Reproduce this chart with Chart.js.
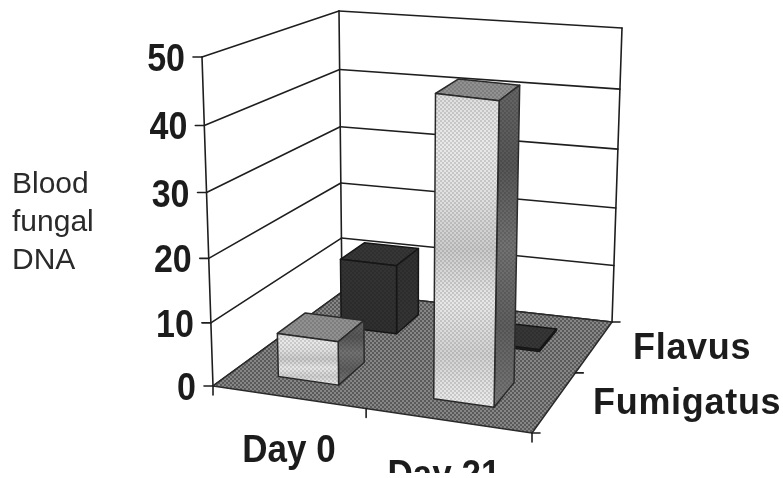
<!DOCTYPE html>
<html>
<head>
<meta charset="utf-8">
<style>
  html, body { margin: 0; background: #fff; }
  canvas { display: block; }
</style>
</head>
<body>
<canvas id="chart" width="783" height="478"></canvas>
<script src="https://cdn.jsdelivr.net/npm/chart.js@4"></script>
<script>
const days = ["Day 0", "Day 21"];
const species = ["Fumigatus", "Flavus"];
const fumigatus = [7, 47];
const flavus = [11.8, 0.3];
const yTicks = [0, 10, 20, 30, 40, 50];
const yTitle = ["Blood", "fungal", "DNA"];

// corners of the 3D box as they land on the page: [floor, top]
const corners = {
  frontLeft: [[213, 386], [202, 57]],
  frontRight: [[532, 433], [540, 98]],
  backLeft: [[342, 292], [339, 11]],
  backRight: [[612, 322], [622, 28]],
};

const ink = "#1e1e1e";

function mix(a, b, t) {
  return [a[0] + (b[0] - a[0]) * t, a[1] + (b[1] - a[1]) * t];
}

// u = along the days, v = into the page, w = up the value axis
function project(u, v, w) {
  const depth = (v * 1.18) / (1 + 0.18 * v); // perspective squeeze
  const rise = w - 0.05 * w * (1 - w); // gridlines bunch slightly low down
  const floor = mix(
    mix(corners.frontLeft[0], corners.frontRight[0], u),
    mix(corners.backLeft[0], corners.backRight[0], u),
    depth
  );
  const top = mix(
    mix(corners.frontLeft[1], corners.frontRight[1], u),
    mix(corners.backLeft[1], corners.backRight[1], u),
    depth
  );
  return mix(floor, top, rise);
}

function heightOf(y, value) {
  return (y.bottom - y.getPixelForValue(value)) / y.height;
}

// 2px checker, the scan's halftone
function dots(dark, light) {
  const c = document.createElement("canvas");
  c.width = c.height = 4;
  const g = c.getContext("2d");
  g.fillStyle = light;
  g.fillRect(0, 0, 4, 4);
  g.fillStyle = dark;
  g.fillRect(0, 0, 2, 2);
  g.fillRect(2, 2, 2, 2);
  return c;
}

function poly(ctx, pts, fill, overlay, stroke) {
  ctx.beginPath();
  pts.forEach((p, i) => (i ? ctx.lineTo(p[0], p[1]) : ctx.moveTo(p[0], p[1])));
  ctx.closePath();
  ctx.fillStyle = fill;
  ctx.fill();
  if (overlay) {
    ctx.fillStyle = overlay;
    ctx.fill();
  }
  if (stroke) {
    ctx.strokeStyle = stroke;
    ctx.lineWidth = 1.5;
    ctx.lineJoin = "round";
    ctx.stroke();
  }
}

function line(ctx, a, b, width) {
  ctx.beginPath();
  ctx.moveTo(a[0], a[1]);
  ctx.lineTo(b[0], b[1]);
  ctx.strokeStyle = ink;
  ctx.lineWidth = width || 1.6;
  ctx.stroke();
}

// the scanned type is taller than it is wide
function tallText(ctx, txt, x, y, stretch) {
  ctx.save();
  ctx.translate(x, y);
  ctx.scale(1, stretch);
  ctx.fillText(txt, 0, 0);
  ctx.restore();
}

function bandFill(ctx, from, to, stops) {
  const g = ctx.createLinearGradient(0, from, 0, to);
  stops.forEach((c, i) => g.addColorStop(i / (stops.length - 1), c));
  return g;
}

function drawBox(ctx, chart, dayIndex, speciesIndex, value, look) {
  const x = chart.scales.x;
  const z = chart.scales.z;
  const y = chart.scales.y;
  const u = (x.getPixelForValue(dayIndex) - x.left) / x.width - 0.012;
  const v = (z.getPixelForValue(speciesIndex) - z.left) / z.width;
  const w = heightOf(y, value);
  const halfU = 0.097;
  const halfV = 0.105;

  const fl0 = project(u - halfU, v - halfV, 0);
  const fr0 = project(u + halfU, v - halfV, 0);
  const br0 = project(u + halfU, v + halfV, 0);
  const fl1 = project(u - halfU, v - halfV, w);
  const fr1 = project(u + halfU, v - halfV, w);
  const br1 = project(u + halfU, v + halfV, w);
  const bl1 = project(u - halfU, v + halfV, w);

  poly(ctx, [fl1, fr1, br1, bl1], look.top, look.dots, look.edge);
  poly(ctx, [fr0, br0, br1, fr1], bandFill(ctx, br1[1], fr0[1], look.side), look.dots, look.edge);
  poly(ctx, [fl0, fr0, fr1, fl1], bandFill(ctx, fl1[1], fr0[1], look.front), look.dots, look.edge);
}

const threeD = {
  id: "threeD",
  beforeDatasetsDraw(chart) {
    const ctx = chart.ctx;
    const y = chart.scales.y;
    const z = chart.scales.z;
    const x = chart.scales.x;
    const grain = ctx.createPattern(dots("rgba(0,0,0,0.13)", "rgba(255,255,255,0.06)"), "repeat");
    const floorGrain = ctx.createPattern(dots("#5a5a5a", "#868686"), "repeat");

    ctx.save();
    ctx.lineCap = "round";

    // walls and gridlines
    y.ticks.forEach((t) => {
      const w = heightOf(y, t.value);
      line(ctx, project(0, 0, w), project(0, 1, w));
      line(ctx, project(0, 1, w), project(1, 1, w));
      const a = project(0, 0, w);
      line(ctx, a, [a[0] - 9, a[1]]);
    });
    line(ctx, project(0, 0, 0), project(0, 0, 1));
    line(ctx, project(0, 1, 0), project(0, 1, 1));
    line(ctx, project(1, 1, 0), project(1, 1, 1));

    // floor
    poly(ctx, [project(0, 0, 0), project(1, 0, 0), project(1, 1, 0), project(0, 1, 0)], floorGrain, null, "#2a2a2a");

    // floor ticks
    [0, 0.48, 1].forEach((u) => {
      const a = project(u, 0, 0);
      line(ctx, a, [a[0], a[1] + 9]);
    });
    [0, 0.5, 1].forEach((v) => {
      const b = project(1, v, 0);
      line(ctx, b, [b[0] + 8, b[1]]);
    });

    // back row first so the front row sits over it
    const dark = {
      top: "#2a2a2a",
      front: ["#282828", "#222222"],
      side: ["#242424", "#282828"],
      dots: grain,
      edge: "#161616",
    };
    const pale = {
      top: "#8a8a8a",
      front: ["#dcdcdc", "#e8e8e8", "#dedede", "#c9c9c9", "#e6e6e6", "#cfcfcf", "#ececec"],
      side: ["#5c5c5c", "#4c4c4c", "#6a6a6a", "#555555", "#707070"],
      dots: grain,
      edge: "#2a2a2a",
    };
    flavus.forEach((val, i) => drawBox(ctx, chart, i, 1, val, dark));
    fumigatus.forEach((val, i) => drawBox(ctx, chart, i, 0, val, pale));

    // value labels
    ctx.fillStyle = "#1c1c1c";
    ctx.textAlign = "right";
    ctx.textBaseline = "alphabetic";
    ctx.font = 'bold 34px "Liberation Sans", Arial, sans-serif';
    y.ticks.forEach((t) => {
      const a = project(0, 0, heightOf(y, t.value));
      tallText(ctx, t.label, a[0] - 17, a[1] + 14, 1.14);
    });

    // species labels
    ctx.textAlign = "left";
    ctx.font = 'bold 36px "Liberation Sans", Arial, sans-serif';
    ctx.letterSpacing = "0.7px";
    tallText(ctx, z.getLabelForValue(1), 633, 359, 1.05);
    tallText(ctx, z.getLabelForValue(0), 593, 414, 1.05);
    ctx.letterSpacing = "0px";

    // day labels, the bottom one is cut off in the source
    ctx.save();
    ctx.beginPath();
    ctx.rect(0, 0, 783, 473);
    ctx.clip();
    ctx.textAlign = "center";
    ctx.font = 'bold 35px "Liberation Sans", Arial, sans-serif';
    tallText(ctx, x.getLabelForValue(0), 289, 462, 1.12);
    tallText(ctx, x.getLabelForValue(1), 444, 487, 1.12);
    ctx.restore();

    // axis title
    ctx.textAlign = "left";
    ctx.font = '30px "Liberation Sans", Arial, sans-serif';
    ctx.fillStyle = "#2a2a2a";
    yTitle.forEach((txt, i) => ctx.fillText(txt, 12, 193 + i * 38));

    ctx.restore();
  },
};

new Chart(document.getElementById("chart"), {
  type: "bar",
  data: {
    labels: days,
    datasets: [
      { label: species[0], data: fumigatus, backgroundColor: "transparent" },
      { label: species[1], data: flavus, backgroundColor: "transparent" },
    ],
  },
  options: {
    responsive: false,
    animation: false,
    layout: { padding: { left: 213, right: 251, top: 57, bottom: 92 } },
    plugins: { legend: { display: false }, tooltip: { enabled: false } },
    scales: {
      x: { display: false, grid: { display: false } },
      z: { axis: "x", type: "category", labels: species, offset: true, display: false },
      y: {
        display: false,
        min: yTicks[0],
        max: yTicks[yTicks.length - 1],
        ticks: { stepSize: 10 },
      },
    },
  },
  plugins: [threeD],
});
</script>
</body>
</html>
